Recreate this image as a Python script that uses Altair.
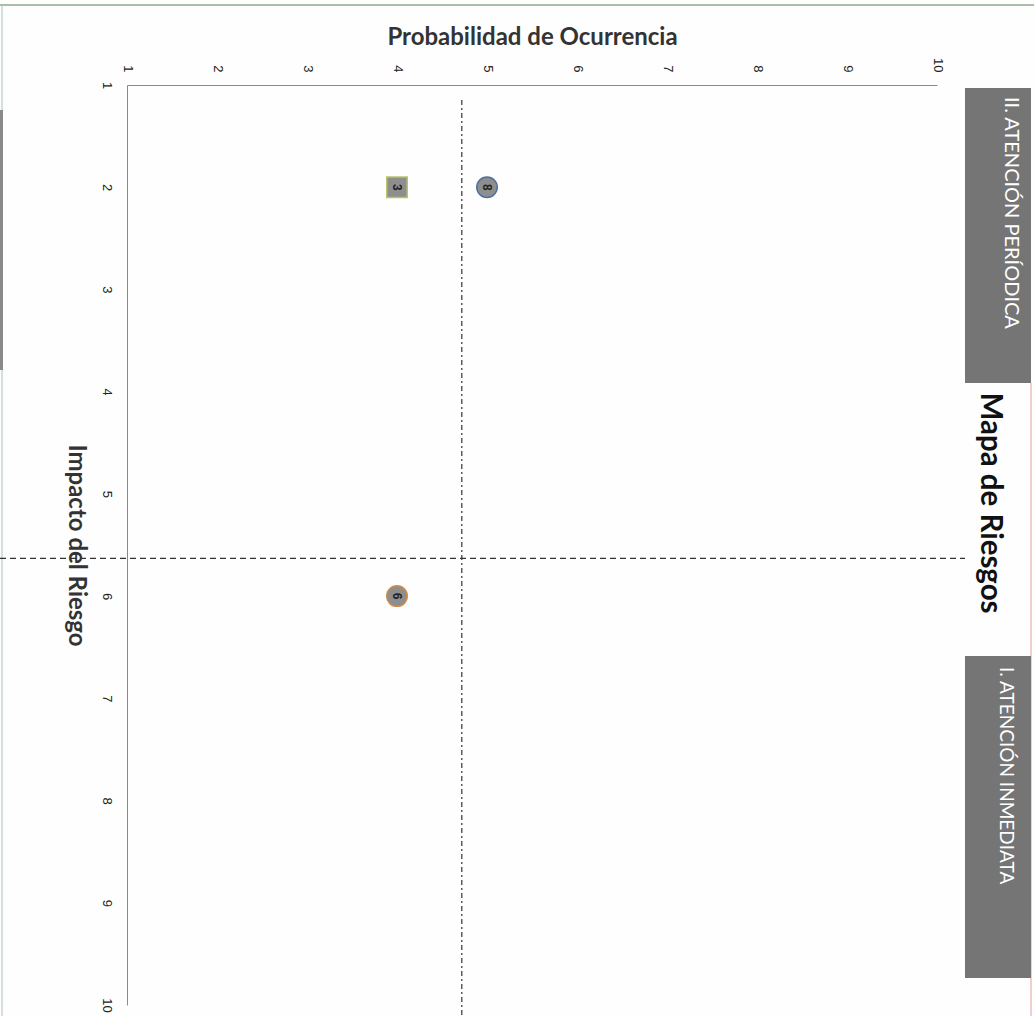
import altair as alt
import pandas as pd

# Data
risk_ids = ["8", "3", "6"]
probabilidad = [5, 4, 4]
impacto = [2, 2, 6]
shapes = ["circle", "square", "circle"]
ticks = list(range(1, 11))
umbral_prob = 4.72
umbral_impacto = 5.63

df = pd.DataFrame({"id": risk_ids, "prob": probabilidad, "imp": impacto, "forma": shapes})

FONT = "Lato"
W, H = 810, 920
PL, PT = 127, 85

xs = alt.Scale(domain=[1, 10], nice=False, zero=False)
ys = alt.Scale(domain=[1, 10], nice=False, zero=False, reverse=True)

one = alt.Data(values=[{}])

base = alt.Chart(df)

points = base.mark_point(filled=True, opacity=1, strokeWidth=1.5, size=420).encode(
    x=alt.X("prob:Q", scale=xs, axis=alt.Axis(
        orient="top", values=ticks, format="d", labelAngle=90, labelAlign="right", labelBaseline="middle",
        labelPadding=13, ticks=False, grid=False, domainColor="#8a8a8a", domainWidth=1,
        labelFont="Liberation Sans", labelFontSize=13, labelColor="#222",
        title="Probabilidad de Ocurrencia", titleFont=FONT, titleFontSize=24, titleFontWeight="bold",
        titleColor="#333", titleY=-48, titleBaseline="middle", titleAnchor="middle")),
    y=alt.Y("imp:Q", scale=ys, axis=alt.Axis(
        orient="left", values=ticks, format="d", labelAngle=90, labelAlign="center", labelBaseline="top",
        labelPadding=15, ticks=False, grid=False, domainColor="#8a8a8a", domainWidth=1,
        labelFont="Liberation Sans", labelFontSize=13, labelColor="#222",
        title="Impacto del Riesgo", titleFont=FONT, titleFontSize=24, titleFontWeight="bold",
        titleColor="#333", titleAngle=90, titleX=-52, titleY=460, titleAlign="center",
        titleBaseline="middle")),
    shape=alt.Shape("forma:N", scale=alt.Scale(domain=["circle", "square"], range=["circle", "square"]), legend=None),
    fill=alt.value("#8e8e8e"),
    stroke=alt.Color("id:N", scale=alt.Scale(domain=["8", "3", "6"], range=["#4f6f9f", "#b9c46a", "#cf8a4a"]), legend=None),
)

labels = base.mark_text(angle=90, fontSize=12, fontWeight="bold", font="Liberation Sans", color="#222").encode(
    x=alt.X("prob:Q", scale=xs), y=alt.Y("imp:Q", scale=ys), text="id:N")

vline = alt.Chart(pd.DataFrame({"v": [umbral_prob]})).mark_rule(
    strokeDash=[5, 3, 2, 3], color="#333", strokeWidth=1.2).encode(
    x=alt.X("v:Q", scale=xs), y=alt.value(15), y2=alt.value(931))

hline = alt.Chart(pd.DataFrame({"h": [umbral_impacto]})).mark_rule(
    strokeDash=[6, 4], color="#333", strokeWidth=1.3).encode(
    y=alt.Y("h:Q", scale=ys), x=alt.value(-PL), x2=alt.value(965 - PL))

# Decorations (right side boxes, title, frame)
box1 = alt.Chart(one).mark_rect(color="#757575").encode(
    x=alt.value(965 - PL), x2=alt.value(1031 - PL), y=alt.value(88 - PT), y2=alt.value(383 - PT))
box2 = alt.Chart(one).mark_rect(color="#757575").encode(
    x=alt.value(965 - PL), x2=alt.value(1031 - PL), y=alt.value(656 - PT), y2=alt.value(978 - PT))

box_text1 = alt.Chart(one).mark_text(text="II. ATENCIÓN PERÍODICA", angle=90, align="left", baseline="middle",
                                     color="white", font=FONT, fontSize=20).encode(
    x=alt.value(1011 - PL), y=alt.value(97 - PT))
box_text2 = alt.Chart(one).mark_text(text="I. ATENCIÓN INMEDIATA", angle=90, align="left", baseline="middle",
                                     color="white", font=FONT, fontSize=19).encode(
    x=alt.value(1006 - PL), y=alt.value(667 - PT))
main_title = alt.Chart(one).mark_text(text="Mapa de Riesgos", angle=90, align="center", baseline="middle",
                                      color="#111", font=FONT, fontSize=29.5, fontWeight="bold").encode(
    x=alt.value(990 - PL), y=alt.value(503 - PT))

top_line = alt.Chart(one).mark_rule(color="#8fa890", strokeWidth=1.5).encode(
    x=alt.value(-PL), x2=alt.value(1034 - PL), y=alt.value(5 - PT))
left_line = alt.Chart(one).mark_rule(color="#a9c3b8", strokeWidth=1).encode(
    x=alt.value(2 - PL), y=alt.value(5 - PT), y2=alt.value(1016 - PT))
left_bar = alt.Chart(one).mark_rect(color="#8a8a8a").encode(
    x=alt.value(-PL), x2=alt.value(3 - PL), y=alt.value(110 - PT), y2=alt.value(370 - PT))
right_line = alt.Chart(one).mark_rule(color="#e2a0a0", strokeWidth=1).encode(
    x=alt.value(1031 - PL), y=alt.value(383 - PT), y2=alt.value(1016 - PT))

chart = alt.layer(
    top_line, left_line, left_bar, right_line, box1, box2, box_text1, box_text2, main_title,
    vline, hline, points, labels
).properties(
    width=W, height=H,
    autosize=alt.AutoSizeParams(type="none"),
    padding={"left": PL, "top": PT, "right": 1034 - PL - W, "bottom": 1016 - PT - H},
    background="#fefefe",
).configure_view(strokeWidth=0)

chart.save("out.html", embed_options={"renderer": "svg", "actions": False})
